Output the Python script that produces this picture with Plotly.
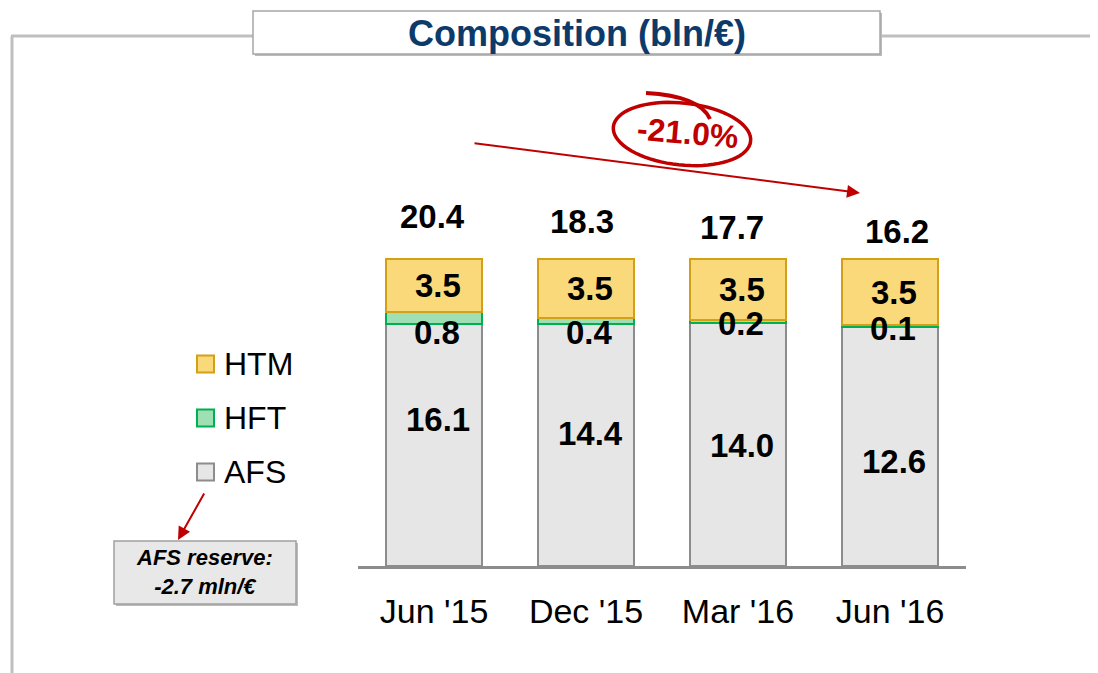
import math
import plotly.graph_objects as go

# ---------------- data ----------------
categories = ["Jun '15", "Dec '15", "Mar '16", "Jun '16"]
afs = [16.1, 14.4, 14.0, 12.6]
hft = [0.8, 0.4, 0.2, 0.1]
htm = [3.5, 3.5, 3.5, 3.5]
totals = [20.4, 18.3, 17.7, 16.2]
change_label = "-21.0%"
afs_reserve_label = "AFS reserve:<br>-2.7 mln/€"
title_text = "Composition (bln/€)"

# ---------------- label placement (percent of bar height) ----------------
afs_label_pos = [47.6, 43.0, 39.4, 33.9]
hft_label_pos = [76.2, 76.2, 78.9, 77.3]
total_label_pos = [113.7, 112.1, 110.1, 108.8]
total_label_xshift = [-2, -4, -6, 7]

W, H = 1098, 673
OX, OY = 8, 8  # page body offset
FONT = "Liberation Sans, Arial, sans-serif"


def px(x):
    return (x - OX) / W


def py(y):
    return 1 - (y - OY) / H


C_AFS, L_AFS = "#E6E6E6", "#8C8C8C"
C_HFT, L_HFT = "#9EE0B4", "#00B050"
C_HTM, L_HTM = "#FAD97A", "#D4A017"
RED = "#C00000"

fig = go.Figure()
fig.add_trace(go.Bar(x=categories, y=afs, name="AFS", marker=dict(color=C_AFS, line=dict(color=L_AFS, width=2))))
fig.add_trace(go.Bar(x=categories, y=hft, name="HFT", marker=dict(color=C_HFT, line=dict(color=L_HFT, width=2))))
fig.add_trace(go.Bar(x=categories, y=htm, name="HTM", marker=dict(color=C_HTM, line=dict(color=L_HTM, width=2))))

annotations = []
lab_font = dict(family=FONT, size=33, color="black")
C = dict(xanchor="center", yanchor="middle", showarrow=False)
for i, c in enumerate(categories):
    tot = afs[i] + hft[i] + htm[i]
    afs_p = afs[i] / tot * 100
    hft_p = hft[i] / tot * 100
    htm_p = htm[i] / tot * 100
    annotations.append(dict(x=c, y=afs_p + hft_p + htm_p / 2, xref="x", yref="y", text=f"<b>{htm[i]:.1f}</b>",
                            font=lab_font, xshift=4, **C))
    annotations.append(dict(x=c, y=hft_label_pos[i], xref="x", yref="y", text=f"<b>{hft[i]:.1f}</b>",
                            font=lab_font, xshift=3, **C))
    annotations.append(dict(x=c, y=afs_label_pos[i], xref="x", yref="y", text=f"<b>{afs[i]:.1f}</b>",
                            font=lab_font, xshift=4, **C))
    annotations.append(dict(x=c, y=total_label_pos[i], xref="x", yref="y", text=f"<b>{totals[i]:.1f}</b>",
                            font=lab_font, xshift=total_label_xshift[i], **C))

annotations.append(dict(x=px(577), y=py(34), xref="paper", yref="paper", text=f"<b>{title_text}</b>",
                        font=dict(family=FONT, size=36, color="#0B3A6B"), **C))
annotations.append(dict(x=px(688), y=py(133), xref="paper", yref="paper", text=f"<b>{change_label}</b>",
                        textangle=5, font=dict(family=FONT, size=32, color=RED), **C))
annotations.append(dict(x=px(205), y=py(572), xref="paper", yref="paper", text=f"<b><i>{afs_reserve_label}</i></b>",
                        font=dict(family=FONT, size=22, color="black"), **C))
annotations.append(dict(x=px(860), y=py(193), ax=473 - 860, ay=143 - 193, xref="paper", yref="paper",
                        axref="pixel", ayref="pixel", text="", showarrow=True, arrowhead=2, arrowsize=1.3,
                        arrowwidth=2, arrowcolor=RED))
annotations.append(dict(x=px(178), y=py(540), ax=205 - 178, ay=492 - 540, xref="paper", yref="paper",
                        axref="pixel", ayref="pixel", text="", showarrow=True, arrowhead=2, arrowsize=1.3,
                        arrowwidth=2, arrowcolor=RED))

legend_items = [("HTM", C_HTM, L_HTM, 364), ("HFT", C_HFT, L_HFT, 418), ("AFS", C_AFS, L_AFS, 472)]
shapes = []
for name, fc, lc, yc in legend_items:
    shapes.append(dict(type="rect", xref="paper", yref="paper", x0=px(197), x1=px(214), y0=py(yc - 8.5),
                       y1=py(yc + 8.5), fillcolor=fc, line=dict(color=lc, width=2)))
    annotations.append(dict(x=px(222), y=py(yc), xref="paper", yref="paper", text=name, xanchor="left",
                            yanchor="middle", showarrow=False, font=dict(family=FONT, size=32, color="black")))

FRAME = "#BFBFBF"
shapes += [
    dict(type="line", xref="paper", yref="paper", x0=px(12), x1=px(12), y0=py(36), y1=py(690),
         line=dict(color=FRAME, width=3)),
    dict(type="line", xref="paper", yref="paper", x0=px(11), x1=px(253), y0=py(36), y1=py(36),
         line=dict(color=FRAME, width=3)),
    dict(type="line", xref="paper", yref="paper", x0=px(880), x1=px(1110), y0=py(36), y1=py(36),
         line=dict(color=FRAME, width=3)),
    dict(type="rect", xref="paper", yref="paper", x0=px(255), x1=px(882), y0=py(56), y1=py(13),
         fillcolor="#BBBBBB", line=dict(width=0)),
    dict(type="rect", xref="paper", yref="paper", x0=px(253), x1=px(880), y0=py(54), y1=py(11),
         fillcolor="white", line=dict(color="#A6A6A6", width=1.5)),
    dict(type="rect", xref="paper", yref="paper", x0=px(116), x1=px(298), y0=py(606), y1=py(543),
         fillcolor="#BBBBBB", line=dict(width=0)),
    dict(type="rect", xref="paper", yref="paper", x0=px(114), x1=px(296), y0=py(604), y1=py(541),
         fillcolor="#E8E8E8", line=dict(color="#A0A0A0", width=1.5)),
]

cx, cy, rx, ry, rot = 682, 134, 69, 31, math.radians(6)
pts = []
for k in range(0, 73):
    t = 2 * math.pi * k / 72
    x = rx * math.cos(t)
    y = ry * math.sin(t)
    xr = cx + x * math.cos(rot) - y * math.sin(rot)
    yr = cy + x * math.sin(rot) + y * math.cos(rot)
    pts.append((px(xr), py(yr)))
path = "M " + " L ".join(f"{a:.5f},{b:.5f}" for a, b in pts)
shapes.append(dict(type="path", xref="paper", yref="paper", path=path, line=dict(color=RED, width=3.5)))
sw = "M {:.5f},{:.5f} Q {:.5f},{:.5f} {:.5f},{:.5f}".format(px(646), py(93), px(700), py(96), px(710), py(119))
shapes.append(dict(type="path", xref="paper", yref="paper", path=sw, line=dict(color=RED, width=4)))

BASE_Y, TOP100_Y = 566, 259
YMAX = 125
pxu = (BASE_Y - TOP100_Y) / 100
top_px = BASE_Y - YMAX * pxu

fig.update_layout(
    width=W, height=H,
    barmode="stack", barnorm="percent", bargap=0.37,
    paper_bgcolor="white", plot_bgcolor="rgba(0,0,0,0)",
    margin=dict(l=0, r=0, t=0, b=0, autoexpand=False),
    showlegend=False,
    xaxis=dict(domain=[px(358), px(966)], range=[-0.5, 3.5], showline=True, linecolor="#8C8C8C",
               linewidth=3, showgrid=False, zeroline=False, ticks="",
               tickfont=dict(family=FONT, size=34, color="black"), ticklabelstandoff=13),
    yaxis=dict(domain=[py(BASE_Y), py(top_px)], range=[0, YMAX], visible=False),
    annotations=annotations,
    shapes=shapes,
)

fig.write_html("out.html")
